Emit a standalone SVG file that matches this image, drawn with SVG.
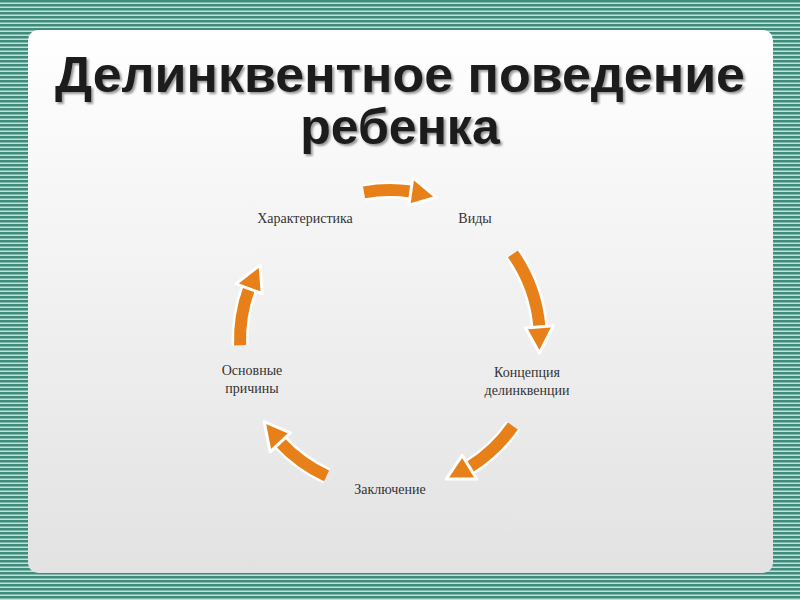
<svg xmlns="http://www.w3.org/2000/svg" width="800" height="600" viewBox="0 0 800 600">
<defs>
<pattern id="st" width="4" height="4" patternUnits="userSpaceOnUse"><rect width="4" height="4" fill="#c8e0d8"/><rect width="4" height="2.5" fill="#3d8c7c"/></pattern>
<linearGradient id="card" x1="0" y1="0" x2="0" y2="1"><stop offset="0" stop-color="#ffffff"/><stop offset="1" stop-color="#e2e2e2"/></linearGradient>
<filter id="sh" x="-5%" y="-5%" width="110%" height="110%"><feDropShadow dx="2" dy="2" stdDeviation="1" flood-color="#000" flood-opacity="0.4"/></filter>
</defs>
<style>
.t{font-family:"Liberation Sans",Arial,sans-serif;font-weight:bold;font-size:50px;fill:#1a1a1a;text-anchor:middle}
.l{font-family:"Liberation Serif","Times New Roman",serif;font-size:14px;fill:#333;text-anchor:middle}
.bo{fill:none;stroke:#fff;stroke-width:17}
.b{fill:none;stroke:#e8801a;stroke-width:12}
.ho{fill:#e8801a;stroke:#fff;stroke-width:3;stroke-linejoin:round}
</style>
<rect width="800" height="600" fill="url(#st)"/>
<rect x="28" y="30" width="745" height="543" rx="10" fill="url(#card)"/>
<g id="title" filter="url(#sh)">
<text class="t" x="400" y="92" textLength="690" lengthAdjust="spacingAndGlyphs">Делинквентное поведение</text>
<text class="t" x="400" y="144">ребенка</text>
</g>
<g id="connectors">
<path class="bo" d="M364,192.3 A150,150 0 0 1 410.9,191.5"/><path class="b" d="M364,192.3 A150,150 0 0 1 410.9,191.5"/><polygon class="ho" points="412.8,177.6 436.4,197.3 408.9,205.3"/>
<path class="bo" d="M512.9,253.9 A150,150 0 0 1 539.4,326.9"/><path class="b" d="M512.9,253.9 A150,150 0 0 1 539.4,326.9"/><polygon class="ho" points="553.4,325.7 539.4,353.1 525.5,328.1"/>
<path class="bo" d="M512.9,426 A150,150 0 0 1 469.5,467.2"/><path class="b" d="M512.9,426 A150,150 0 0 1 469.5,467.2"/><polygon class="ho" points="476.9,479.1 446.2,479.1 462.1,455.3"/>
<path class="bo" d="M326.6,475.9 A150,150 0 0 1 280.3,442.3"/><path class="b" d="M326.6,475.9 A150,150 0 0 1 280.3,442.3"/><polygon class="ho" points="270.1,451.8 264.2,421.7 290.5,432.8"/>
<path class="bo" d="M240.1,345.2 A150,150 0 0 1 249,288.7"/><path class="b" d="M240.1,345.2 A150,150 0 0 1 249,288.7"/><polygon class="ho" points="235.9,283.9 260.1,265 262.2,293.5"/>
</g>
<g id="n1"><text class="l" x="305" y="223">Характеристика</text></g>
<g id="n2"><text class="l" x="475" y="223">Виды</text></g>
<g id="n3"><text class="l" x="527" y="377">Концепция</text><text class="l" x="527" y="395">делинквенции</text></g>
<g id="n4"><text class="l" x="390" y="494">Заключение</text></g>
<g id="n5"><text class="l" x="252" y="375">Основные</text><text class="l" x="252" y="393">причины</text></g>
</svg>
